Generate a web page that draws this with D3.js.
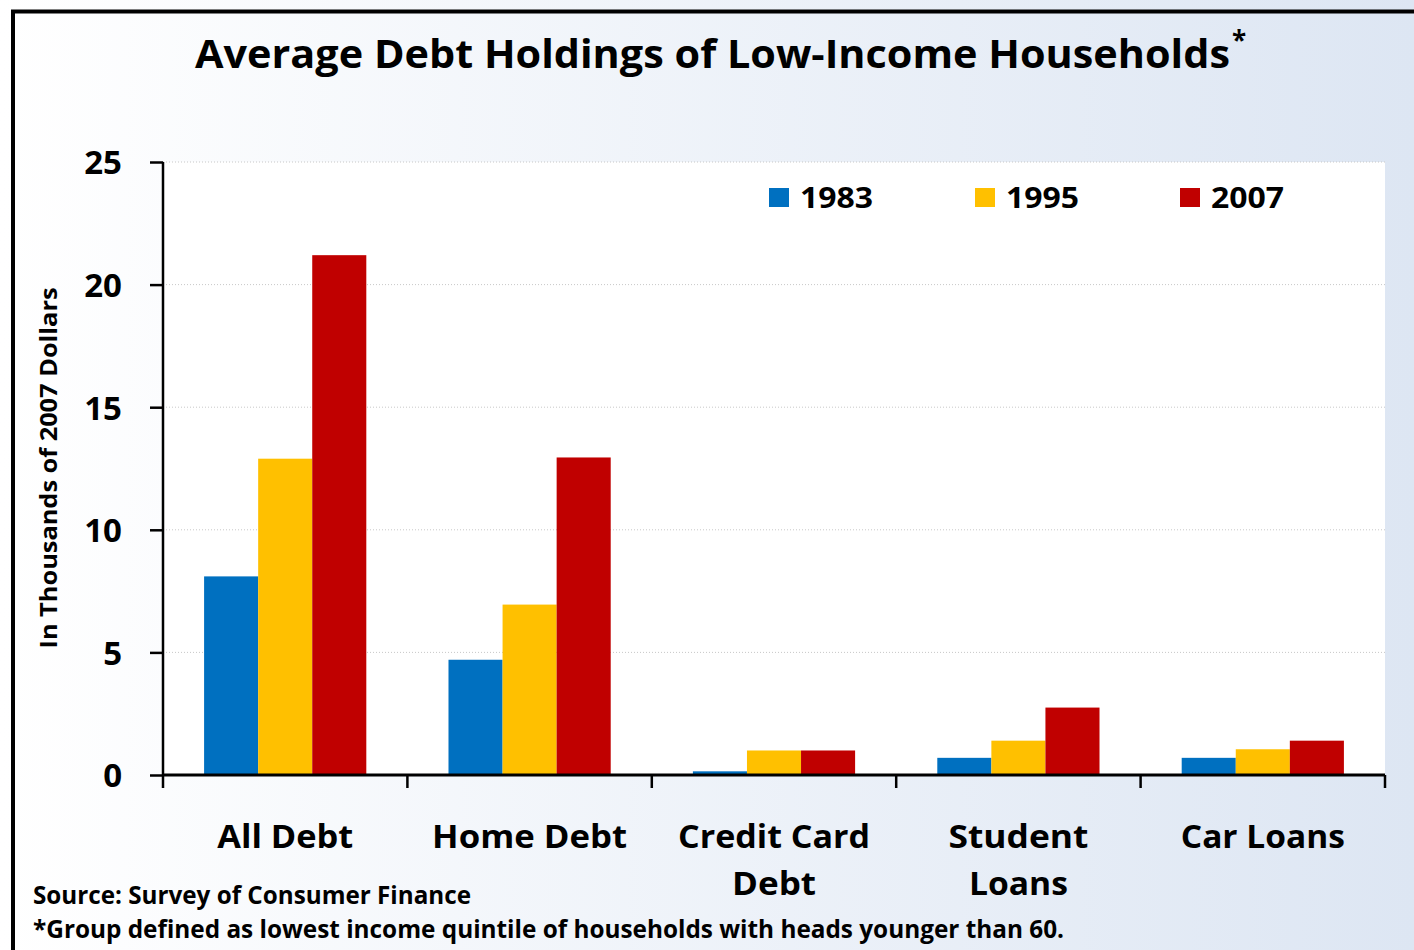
<!DOCTYPE html>
<html>
<head>
<meta charset="utf-8">
<script src="https://cdn.jsdelivr.net/npm/d3@7/dist/d3.min.js"></script>
<style>
  html, body { margin: 0; padding: 0; background: #fff; }
  svg { display: block; }
  text { font-family: "Open Sans", Lato, sans-serif; font-weight: bold; fill: #000; }
</style>
</head>
<body>
<svg id="chart" width="1414" height="950"></svg>
<script>
// Debt categories (label lines) and survey years
const categories = [["All Debt"], ["Home Debt"], ["Credit Card", "Debt"], ["Student", "Loans"], ["Car Loans"]];
const years = ["1983", "1995", "2007"];
// Average debt, thousands of 2007 dollars, one array per year (same order as categories)
const debt1983 = [8.1, 4.7, 0.15, 0.7, 0.7];
const debt1995 = [12.9, 6.95, 1.0, 1.4, 1.05];
const debt2007 = [21.2, 12.95, 1.0, 2.75, 1.4];
const yTicks = [0, 5, 10, 15, 20, 25];
const colors = ["#0070C0", "#FFC000", "#C00000"];

const series = [debt1983, debt1995, debt2007];
const W = 1414, H = 950;
const svg = d3.select("#chart");

// squeeze/stretch a text element to a set width
function fit(sel, w) {
  sel.attr("textLength", w).attr("lengthAdjust", "spacingAndGlyphs");
  return sel;
}

// background gradient
const defs = svg.append("defs");
const grad = defs.append("linearGradient").attr("id", "bg").attr("x1", 0).attr("y1", 0).attr("x2", 1).attr("y2", 0);
grad.append("stop").attr("offset", "0%").attr("stop-color", "#ffffff");
grad.append("stop").attr("offset", "100%").attr("stop-color", "#dde6f3");
svg.append("rect").attr("width", W).attr("height", H).attr("fill", "url(#bg)");

// frame (top and left edges)
svg.append("path").attr("d", `M13,${H} L13,11.5 L${W},11.5`).attr("fill", "none").attr("stroke", "#000").attr("stroke-width", 4);

const plot = { left: 163, right: 1385, top: 162, bottom: 775 };

const x = d3.scaleBand().domain(d3.range(categories.length)).range([plot.left, plot.right]).paddingInner(0).paddingOuter(0);
const x1 = d3.scaleBand().domain(d3.range(years.length)).range([0, x.bandwidth()]).paddingInner(0).paddingOuter(0.76);
const y = d3.scaleLinear().domain([0, 25]).range([plot.bottom, plot.top]);

// plot area
svg.append("rect").attr("x", plot.left).attr("y", plot.top)
  .attr("width", plot.right - plot.left).attr("height", plot.bottom - plot.top).attr("fill", "#fff");

// gridlines
svg.append("g").selectAll("line").data(yTicks.filter(d => d > 0)).join("line")
  .attr("x1", plot.left).attr("x2", plot.right)
  .attr("y1", d => y(d)).attr("y2", d => y(d))
  .attr("stroke", "#c8c8c8").attr("stroke-width", 1).attr("stroke-dasharray", "1,2");

// bars
const groups = svg.append("g").selectAll("g").data(categories).join("g")
  .attr("transform", (d, i) => `translate(${x(i)},0)`);
groups.selectAll("rect").data((d, i) => series.map((s, k) => ({ k, v: s[i] }))).join("rect")
  .attr("x", d => x1(d.k)).attr("width", x1.bandwidth())
  .attr("y", d => y(d.v)).attr("height", d => y(0) - y(d.v))
  .attr("fill", d => colors[d.k]);

// y axis
const yAxis = svg.append("g").attr("transform", `translate(${plot.left},0)`)
  .call(d3.axisLeft(y).tickValues(yTicks).tickSize(13).tickPadding(28));
yAxis.select(".domain").attr("stroke", "#000").attr("stroke-width", 2.5).attr("d", `M0,${plot.top}V${plot.bottom}`);
yAxis.selectAll(".tick line").attr("stroke", "#000").attr("stroke-width", 2.5);
yAxis.selectAll(".tick text").style("font-size", "33px").style("font-family", "'Open Sans', sans-serif")
  .style("font-weight", "bold").attr("dy", "0.36em");

// x axis
const xAxis = svg.append("g").attr("transform", `translate(0,${plot.bottom})`);
xAxis.append("line").attr("x1", plot.left).attr("x2", plot.right).attr("stroke", "#000").attr("stroke-width", 3);
xAxis.selectAll(".xt").data(d3.range(categories.length + 1)).join("line").attr("class", "xt")
  .attr("x1", i => plot.left + i * x.bandwidth()).attr("x2", i => plot.left + i * x.bandwidth())
  .attr("y1", 0).attr("y2", 13).attr("stroke", "#000").attr("stroke-width", 2.5);

// category labels, one text element per line
const labelWidths = [[136], [195], [192, 84], [140, 99], [164]];
categories.forEach((lines, i) => {
  lines.forEach((line, j) => {
    fit(svg.append("text")
      .attr("x", x(i) + x.bandwidth() / 2).attr("y", 848 + j * 47)
      .attr("text-anchor", "middle").style("font-size", "32px").text(line), labelWidths[i][j]);
  });
});

// y axis title
fit(svg.append("text").attr("transform", "translate(57,468) rotate(-90)")
  .attr("text-anchor", "middle").style("font-size", "24px").text("In Thousands  of 2007 Dollars"), 361);

// title
fit(svg.append("text").attr("x", 195).attr("y", 68).style("font-size", "40px")
  .text("Average Debt Holdings of Low-Income Households"), 1035);
svg.append("text").attr("x", 1232).attr("y", 50).style("font-size", "26px").text("*");

// legend
const legendX = [769, 975, 1180];
const lg = svg.append("g").selectAll("g").data(years).join("g")
  .attr("transform", (d, i) => `translate(${legendX[i]},188)`);
lg.append("rect").attr("width", 20).attr("height", 19).attr("fill", (d, i) => colors[i]);
lg.append("text").attr("x", 31).attr("y", 19.5).style("font-size", "28px").text(d => d)
  .attr("textLength", 73).attr("lengthAdjust", "spacingAndGlyphs");

// notes
fit(svg.append("text").attr("x", 33).attr("y", 904).style("font-size", "25px")
  .text("Source: Survey of Consumer Finance"), 438);
fit(svg.append("text").attr("x", 33).attr("y", 938).style("font-size", "25px")
  .text("*Group defined as lowest income quintile of households with heads younger than 60."), 1031);
</script>
</body>
</html>
